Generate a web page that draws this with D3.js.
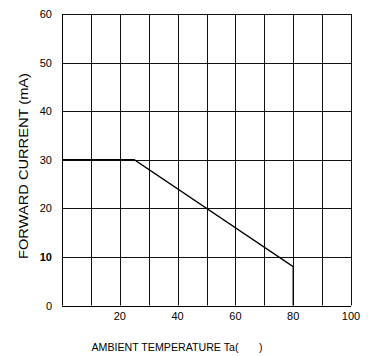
<!DOCTYPE html>
<html>
<head>
<meta charset="utf-8">
<script src="https://cdn.jsdelivr.net/npm/d3@7"></script>
<style>
  html, body { margin: 0; padding: 0; background: #fff; }
  svg { display: block; font-family: "Liberation Sans", Arial, sans-serif; }
</style>
</head>
<body>
<svg id="chart" width="368" height="356"></svg>
<script>
// Derating curve: forward current vs ambient temperature
const temps = [0, 25, 80, 80];
const currents = [30, 30, 8, 0];
const xTicks = [20, 40, 60, 80, 100];
const yTicks = [0, 10, 20, 30, 40, 50, 60];
const xGrid = [10, 20, 30, 40, 50, 60, 70, 80, 90, 100];
const yGrid = [10, 20, 30, 40, 50, 60];

const svg = d3.select("#chart");
const plotLeft = 62, plotRight = 351, plotTop = 14, plotBottom = 305.5;

const x = d3.scaleLinear().domain([0, 100]).range([plotLeft, plotRight]);
const y = d3.scaleLinear().domain([0, 60]).range([plotBottom, plotTop]);

// grid
svg.append("g").selectAll("line").data(xGrid).join("line")
  .attr("x1", d => Math.round(x(d)) + 0.5).attr("x2", d => Math.round(x(d)) + 0.5)
  .attr("y1", plotTop).attr("y2", plotBottom)
  .attr("stroke", "#111").attr("stroke-width", 1);
svg.append("g").selectAll("line").data(yGrid).join("line")
  .attr("y1", d => Math.round(y(d)) + 0.5).attr("y2", d => Math.round(y(d)) + 0.5)
  .attr("x1", plotLeft).attr("x2", plotRight)
  .attr("stroke", "#111").attr("stroke-width", 1);

// axes lines
svg.append("line").attr("x1", plotLeft + 0.5).attr("x2", plotLeft + 0.5)
  .attr("y1", plotTop).attr("y2", plotBottom).attr("stroke", "#000");
svg.append("line").attr("x1", plotLeft).attr("x2", plotRight)
  .attr("y1", Math.round(plotBottom) + 0.5).attr("y2", Math.round(plotBottom) + 0.5).attr("stroke", "#000");

// tick labels
svg.append("g").selectAll("text").data(yTicks).join("text")
  .attr("x", 52).attr("y", d => y(d) + 4)
  .attr("text-anchor", "end").attr("font-size", 11)
  .attr("font-weight", d => d === 10 ? "bold" : "normal")
  .text(d => d);
svg.append("g").selectAll("text").data(xTicks).join("text")
  .attr("x", d => x(d)).attr("y", 320)
  .attr("text-anchor", "middle").attr("font-size", 11)
  .text(d => d);

// titles
svg.append("text")
  .attr("transform", "translate(27.5,166) rotate(-90)")
  .attr("text-anchor", "middle").attr("font-size", 13)
  .attr("textLength", 186).attr("lengthAdjust", "spacingAndGlyphs")
  .text("FORWARD CURRENT (mA)");
svg.append("text")
  .attr("x", 91.5).attr("y", 351)
  .attr("font-size", 10.5)
  .attr("textLength", 147).attr("lengthAdjust", "spacingAndGlyphs")
  .text("AMBIENT TEMPERATURE Ta(");
svg.append("text")
  .attr("x", 259).attr("y", 351)
  .attr("font-size", 10.5)
  .text(")");

// curve
const line = d3.line().x((d, i) => x(temps[i])).y(d => y(d));
svg.append("path").datum(currents)
  .attr("d", line).attr("fill", "none")
  .attr("stroke", "#000").attr("stroke-width", 1.3);
</script>
</body>
</html>
